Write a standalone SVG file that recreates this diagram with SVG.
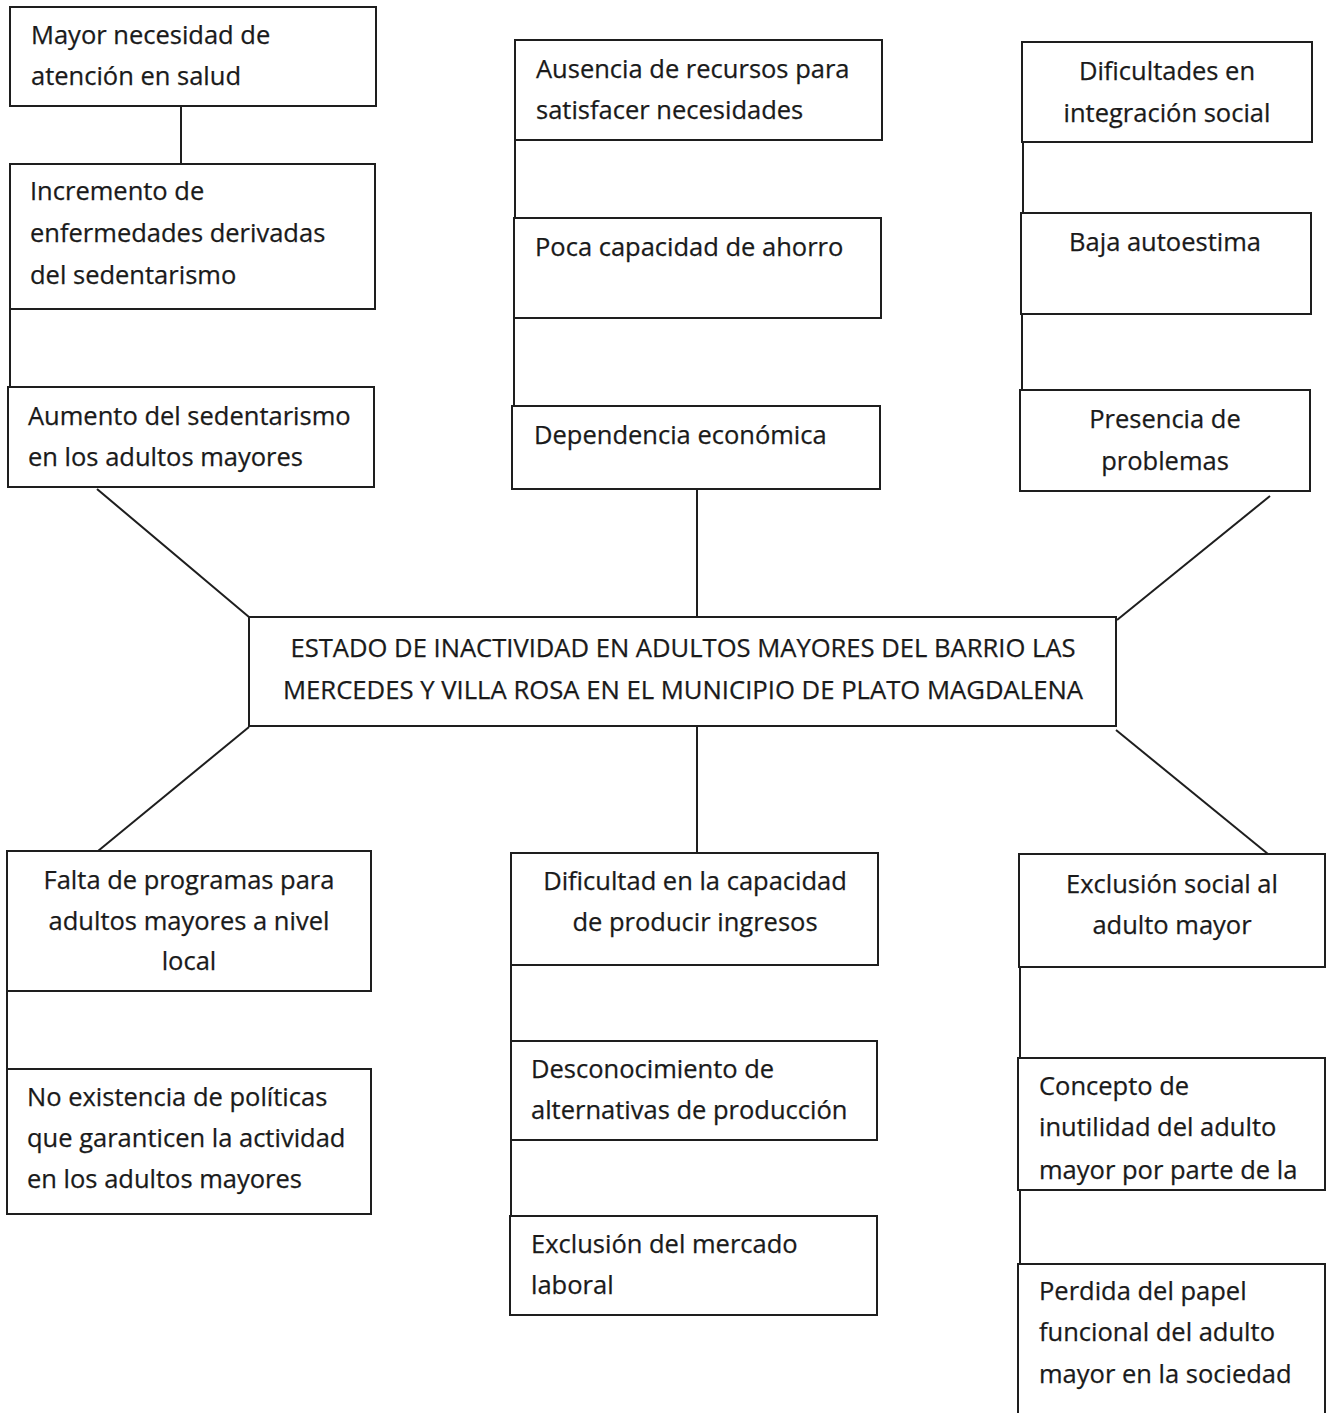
<svg xmlns="http://www.w3.org/2000/svg" width="1331" height="1413" viewBox="0 0 1331 1413">
<style>
.box{fill:#fff;stroke:#1e1e1e;stroke-width:2}
.ln{stroke:#1e1e1e;stroke-width:2;fill:none}
text{font-family:"Open Sans","Noto Sans",sans-serif;font-size:25.5px;fill:#1a1a1a;stroke:#1a1a1a;stroke-width:0.25}
.c{text-anchor:middle}
.t{font-size:25px}
</style>
<defs>
<clipPath id="clipF2"><rect x="1018" y="1058" width="308" height="128"/></clipPath>
</defs>
<rect width="1331" height="1413" fill="#fff"/>
<g id="connectors">
<line class="ln" x1="181" y1="106" x2="181" y2="164"/>
<line class="ln" x1="10" y1="309" x2="10" y2="387"/>
<line class="ln" x1="97" y1="489" x2="249" y2="617"/>
<line class="ln" x1="515" y1="140" x2="515" y2="218"/>
<line class="ln" x1="514" y1="318" x2="514" y2="406"/>
<line class="ln" x1="697" y1="489" x2="697" y2="617"/>
<line class="ln" x1="1023" y1="142" x2="1023" y2="213"/>
<line class="ln" x1="1022" y1="314" x2="1022" y2="390"/>
<line class="ln" x1="1270" y1="496" x2="1117" y2="620"/>
<line class="ln" x1="249" y1="727" x2="98" y2="851"/>
<line class="ln" x1="697" y1="726" x2="697" y2="853"/>
<line class="ln" x1="1116" y1="730" x2="1268" y2="854"/>
<line class="ln" x1="7" y1="991" x2="7" y2="1069"/>
<line class="ln" x1="511" y1="965" x2="511" y2="1041"/>
<line class="ln" x1="511" y1="1140" x2="511" y2="1216"/>
<line class="ln" x1="1020" y1="967" x2="1020" y2="1058"/>
<line class="ln" x1="1020" y1="1190" x2="1020" y2="1264"/>
</g>
<g id="n-center">
<rect class="box" x="249" y="617" width="867" height="109"/>
<text class="c t" x="683" y="657" textLength="785" lengthAdjust="spacingAndGlyphs">ESTADO DE INACTIVIDAD EN ADULTOS MAYORES DEL BARRIO LAS</text>
<text class="c t" x="683" y="699" textLength="800" lengthAdjust="spacingAndGlyphs">MERCEDES Y VILLA ROSA EN EL MUNICIPIO DE PLATO MAGDALENA</text>
</g>
<g id="n-a1">
<rect class="box" x="10" y="7" width="366" height="99"/>
<text x="31" y="44">Mayor necesidad de</text>
<text x="31" y="85">atención en salud</text>
</g>
<g id="n-a2">
<rect class="box" x="10" y="164" width="365" height="145"/>
<text x="30" y="200">Incremento de</text>
<text x="30" y="242">enfermedades derivadas</text>
<text x="30" y="284">del sedentarismo</text>
</g>
<g id="n-a3">
<rect class="box" x="8" y="387" width="366" height="100"/>
<text x="28" y="425">Aumento del sedentarismo</text>
<text x="28" y="466">en los adultos mayores</text>
</g>
<g id="n-b1">
<rect class="box" x="515" y="40" width="367" height="100"/>
<text x="536" y="78">Ausencia de recursos para</text>
<text x="536" y="119">satisfacer necesidades</text>
</g>
<g id="n-b2">
<rect class="box" x="514" y="218" width="367" height="100"/>
<text x="535" y="256">Poca capacidad de ahorro</text>
</g>
<g id="n-b3">
<rect class="box" x="512" y="406" width="368" height="83"/>
<text x="534" y="444">Dependencia económica</text>
</g>
<g id="n-c1">
<rect class="box" x="1022" y="42" width="290" height="100"/>
<text class="c" x="1167" y="80">Dificultades en</text>
<text class="c" x="1167" y="122">integración social</text>
</g>
<g id="n-c2">
<rect class="box" x="1021" y="213" width="290" height="101"/>
<text class="c" x="1165" y="251">Baja autoestima</text>
</g>
<g id="n-c3">
<rect class="box" x="1020" y="390" width="290" height="101"/>
<text class="c" x="1165" y="428">Presencia de</text>
<text class="c" x="1165" y="470">problemas</text>
</g>
<g id="n-d1">
<rect class="box" x="7" y="851" width="364" height="140"/>
<text class="c" x="189" y="889">Falta de programas para</text>
<text class="c" x="189" y="930">adultos mayores a nivel</text>
<text class="c" x="189" y="970">local</text>
</g>
<g id="n-d2">
<rect class="box" x="7" y="1069" width="364" height="145"/>
<text x="27" y="1106">No existencia de políticas</text>
<text x="27" y="1147">que garanticen la actividad</text>
<text x="27" y="1188">en los adultos mayores</text>
</g>
<g id="n-e1">
<rect class="box" x="511" y="853" width="367" height="112"/>
<text class="c" x="695" y="890">Dificultad en la capacidad</text>
<text class="c" x="695" y="931">de producir ingresos</text>
</g>
<g id="n-e2">
<rect class="box" x="511" y="1041" width="366" height="99"/>
<text x="531" y="1078">Desconocimiento de</text>
<text x="531" y="1119">alternativas de producción</text>
</g>
<g id="n-e3">
<rect class="box" x="510" y="1216" width="367" height="99"/>
<text x="531" y="1253">Exclusión del mercado</text>
<text x="531" y="1294">laboral</text>
</g>
<g id="n-f1">
<rect class="box" x="1019" y="854" width="306" height="113"/>
<text class="c" x="1172" y="893">Exclusión social al</text>
<text class="c" x="1172" y="934">adulto mayor</text>
</g>
<g id="n-f2">
<rect class="box" x="1018" y="1058" width="307" height="132"/>
<g clip-path="url(#clipF2)">
<text x="1039" y="1095">Concepto de</text>
<text x="1039" y="1136">inutilidad del adulto</text>
<text x="1039" y="1179">mayor por parte de la</text>
</g>
</g>
<g id="n-f3">
<rect class="box" x="1018" y="1264" width="307" height="160"/>
<text x="1039" y="1300">Perdida del papel</text>
<text x="1039" y="1341">funcional del adulto</text>
<text x="1039" y="1383">mayor en la sociedad</text>
</g>
</svg>
